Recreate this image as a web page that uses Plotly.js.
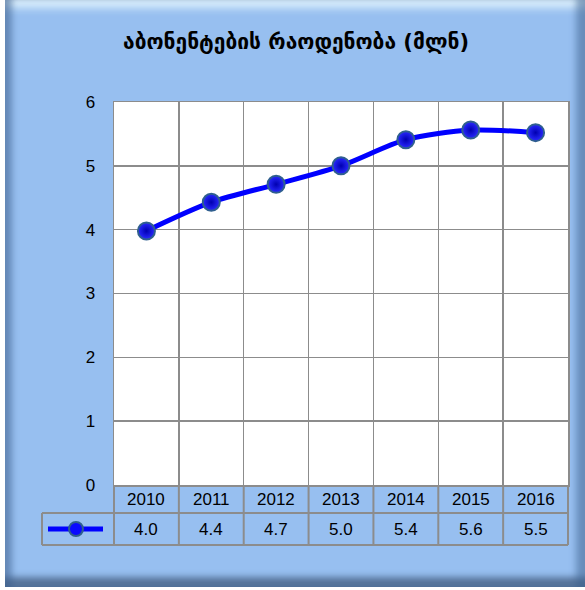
<!DOCTYPE html>
<html><head><meta charset="utf-8">
<script src="https://cdn.plot.ly/plotly-3.0.1.min.js"></script>
<style>
html,body{margin:0;padding:0;background:#fff;width:585px;height:590px;overflow:hidden;}
#bg{position:absolute;left:5px;top:0;width:580px;height:587px;background:#97bff0;
box-shadow: inset 10px 0 6px -3px rgba(60,95,140,0.55), inset -12px 0 6px -3px rgba(60,95,140,0.5), inset 0 -14px 6px -4px rgba(60,85,120,0.7), inset 0 14px 8px -6px rgba(235,250,255,0.8);}
#chart{position:absolute;left:0;top:0;width:585px;height:590px;}
</style></head>
<body><div id="bg"></div><div id="chart"></div>
<script>
const titleText = 'აბონენტების რაოდენობა (მლნ)';
const years = ['2010','2011','2012','2013','2014','2015','2016'];
const values = [3.98, 4.43, 4.71, 5.0, 5.41, 5.56, 5.52];
const yTicks = [0,1,2,3,4,5,6];

const W = 585, H = 590, L = 114, R = 17, T = 102, B = 105;
const pw = W - L - R, ph = H - T - B;
const px = x => (x - L) / pw;      // pixel -> paper x
const py = y => (H - B - y) / ph;  // pixel -> paper y
const n = years.length;
const idx = years.map((_, i) => i);
const grey = '#8c8c8c';
const font = {family: 'Liberation Sans, Arial, sans-serif', size: 17, color: '#000'};

const shapes = [];
const hl = (x0, x1, y) => shapes.push({type:'line', xref:'paper', yref:'paper', x0, x1, y0:y, y1:y, line:{color:grey, width:2}});
const vl = (x, y0, y1) => shapes.push({type:'line', xref:'paper', yref:'paper', x0:x, x1:x, y0, y1, line:{color:grey, width:2}});
const rowTop = 0, rowMid = py(513), rowBot = py(545), leftX = px(42);
hl(leftX, 1, rowMid);
hl(leftX, 1, rowBot);
for (let k = 0; k <= n; k++) vl(k / n, rowTop, rowBot);
vl(leftX, rowMid, rowBot);
// legend key
const keyY = (rowMid + rowBot) / 2;
shapes.push({type:'line', xref:'paper', yref:'paper', x0:px(48), x1:px(103), y0:keyY, y1:keyY, line:{color:'#0000ff', width:5}});
shapes.push({type:'circle', xref:'paper', yref:'paper', xsizemode:'pixel', ysizemode:'pixel', xanchor:px(76), yanchor:keyY, x0:-7, x1:7, y0:-7, y1:7, fillcolor:'#0a0aff', line:{color:'#2f5f8f', width:2}});

const annotations = [];
years.forEach((yr, i) => {
  annotations.push({x:i, xref:'x', y:(rowTop + rowMid) / 2, yref:'paper', text:yr, showarrow:false, font, xanchor:'center', yanchor:'middle'});
  annotations.push({x:i, xref:'x', y:keyY, yref:'paper', text:values[i].toFixed(1), showarrow:false, font, xanchor:'center', yanchor:'middle'});
});

const trace = {
  x: idx, y: values, type:'scatter', mode:'lines+markers',
  line:{color:'#0000ff', width:5, shape:'spline', smoothing:0.8},
  marker:{size:17, color:'#2a2aff', line:{color:'#2f5f8f', width:2}, gradient:{type:'radial', color:'#0000b0'}},
  hoverinfo:'skip'
};

const layout = {
  width: W, height: H,
  margin:{l:L, r:R, t:T, b:B, pad:0},
  paper_bgcolor:'rgba(0,0,0,0)', plot_bgcolor:'#ffffff',
  showlegend:false,
  title:{text:titleText, x:0.506, xref:'container', xanchor:'center', y:1 - 42/H, yref:'container', yanchor:'middle',
    font:{family:'DejaVu Sans, sans-serif', size:21, color:'#000', weight:'bold'}},
  xaxis:{range:[-0.5, n - 0.5], tickvals: idx.concat([n]).map(i => i - 0.5), showticklabels:false, ticks:'',
    showgrid:true, gridcolor:grey, gridwidth:1.5, showline:true, linecolor:grey, linewidth:1.5, mirror:true, zeroline:false, fixedrange:true},
  yaxis:{range:[0, 6], tickvals: yTicks, ticktext: yTicks.map(String), ticks:'', ticklabelstandoff:14,
    showgrid:true, gridcolor:grey, gridwidth:1.5, showline:true, linecolor:grey, linewidth:1.5, mirror:true, zeroline:false, tickfont:font, fixedrange:true},
  shapes, annotations
};
Plotly.newPlot('chart', [trace], layout, {staticPlot:true, displayModeBar:false});
</script></body></html>
